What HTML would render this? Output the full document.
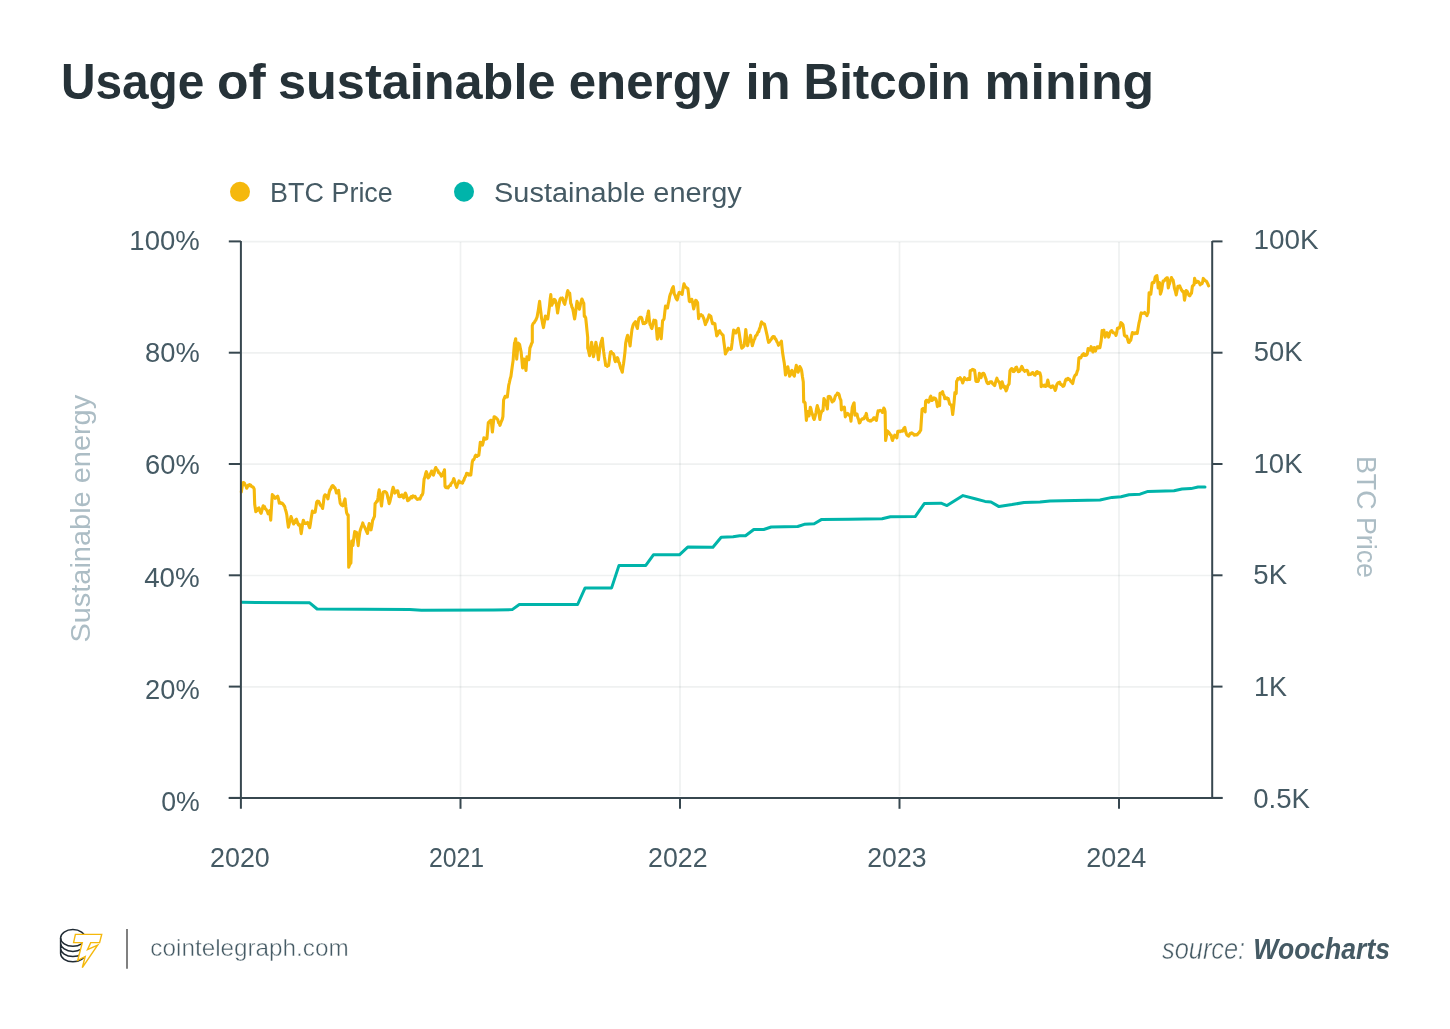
<!DOCTYPE html>
<html><head><meta charset="utf-8"><title>Usage of sustainable energy in Bitcoin mining</title>
<style>
html,body{margin:0;padding:0;background:#fff;}
body{width:1450px;height:1029px;overflow:hidden;}
svg{display:block;}
text{font-family:"Liberation Sans",Arial,sans-serif;}
</style></head><body>
<svg width="1450" height="1029" viewBox="0 0 1450 1029">
<rect width="1450" height="1029" fill="#fff"/>
<g fill="#263238"><text x="60.93" y="99.2" font-size="50" font-weight="700" textLength="143.45" lengthAdjust="spacingAndGlyphs" >Usage</text><text x="216.93" y="99.2" font-size="50" font-weight="700" textLength="48.78" lengthAdjust="spacingAndGlyphs" >of</text><text x="277.98" y="99.2" font-size="50" font-weight="700" textLength="277.55" lengthAdjust="spacingAndGlyphs" >sustainable</text><text x="568.73" y="99.2" font-size="50" font-weight="700" textLength="161.44" lengthAdjust="spacingAndGlyphs" >energy</text><text x="745.45" y="99.2" font-size="50" font-weight="700" textLength="45.24" lengthAdjust="spacingAndGlyphs" >in</text><text x="803.54" y="99.2" font-size="50" font-weight="700" textLength="167.16" lengthAdjust="spacingAndGlyphs" >Bitcoin</text><text x="984.60" y="99.2" font-size="50" font-weight="700" textLength="169.58" lengthAdjust="spacingAndGlyphs" >mining</text></g>
<circle cx="240" cy="191.8" r="10" fill="#f5b80c"/>
<circle cx="464" cy="191.8" r="10" fill="#00b4aa"/>
<g fill="#455a64"><text x="270.11" y="202.4" font-size="27"  textLength="122.72" lengthAdjust="spacingAndGlyphs" >BTC Price</text><text x="494.03" y="202.4" font-size="27"  textLength="247.76" lengthAdjust="spacingAndGlyphs" >Sustainable energy</text></g>
<g stroke="#2a4646" stroke-opacity="0.075" stroke-width="1.7"><line x1="242" y1="241.6" x2="1211.2" y2="241.6"/><line x1="242" y1="352.9" x2="1211.2" y2="352.9"/><line x1="242" y1="464.2" x2="1211.2" y2="464.2"/><line x1="242" y1="575.5" x2="1211.2" y2="575.5"/><line x1="242" y1="686.8000000000001" x2="1211.2" y2="686.8000000000001"/><line x1="460.5" y1="242" x2="460.5" y2="796"/><line x1="680.0" y1="242" x2="680.0" y2="796"/><line x1="899.5" y1="242" x2="899.5" y2="796"/><line x1="1119.0" y1="242" x2="1119.0" y2="796"/></g>
<polyline points="241.8,602.3 309.7,602.8 317.1,609.0 409.8,609.5 421.4,610.2 494.0,610.0 512.2,609.6 519.3,604.5 577.6,604.5 585.1,587.9 611.6,587.9 619.0,565.4 645.8,565.4 653.4,554.8 679.4,554.8 687.7,547.1 712.9,547.2 721.2,537.3 733.1,536.8 739.7,535.8 745.5,535.8 753.8,529.5 763.7,529.5 771.2,527.0 797.7,526.5 804.3,524.3 814.2,523.7 821.7,519.4 849.0,519.2 882.1,518.7 890.4,516.7 915.2,516.6 924.3,503.6 941.0,503.2 947.0,505.6 963.0,495.6 976.0,499.0 985.0,501.4 991.0,502.0 999.0,506.6 1012.0,504.6 1024.0,502.4 1040.0,502.0 1050.0,501.0 1100.0,500.0 1112.0,497.4 1121.0,496.8 1129.0,494.8 1140.0,494.2 1148.0,491.4 1174.0,490.8 1182.0,489.0 1191.0,488.6 1198.0,487.0 1205.0,487.0" fill="none" stroke="#00b4aa" stroke-width="3" stroke-linejoin="round" stroke-linecap="round"/>
<polyline points="241.3,491.9 242.1,487.0 242.9,482.8 243.7,482.5 244.5,483.4 245.2,485.3 246.0,485.8 246.7,488.2 247.5,486.7 248.3,485.0 248.9,485.0 249.5,484.7 250.2,485.8 250.8,485.2 251.4,486.2 252.0,486.6 252.7,486.7 253.5,487.6 254.2,489.2 254.7,504.2 255.8,511.7 256.4,510.8 257.1,510.8 257.7,508.7 258.4,508.2 259.0,507.9 259.7,509.9 260.4,512.3 261.1,513.3 261.8,510.9 262.5,508.1 263.2,505.8 263.9,507.5 264.5,506.6 265.2,508.8 265.9,509.0 266.6,510.2 267.4,511.6 268.1,513.8 268.9,511.5 269.7,510.6 270.7,520.2 271.5,507.1 272.3,494.6 273.0,496.1 273.6,495.9 274.3,497.5 275.0,498.3 275.7,498.0 276.4,497.0 277.0,496.8 277.7,496.2 278.5,498.9 279.3,503.1 280.0,502.3 280.6,502.6 281.3,503.4 282.0,503.1 282.6,503.8 283.3,504.4 284.0,505.7 284.6,506.3 285.3,509.1 286.1,511.7 286.8,514.9 287.6,521.6 288.4,527.2 289.0,524.9 289.7,521.4 290.4,519.3 291.0,516.5 291.7,518.4 292.4,520.9 293.0,522.5 293.7,524.0 294.4,522.4 295.0,522.5 295.7,519.7 296.4,519.2 297.2,521.5 298.0,524.0 298.7,525.0 299.4,524.4 300.1,525.6 301.2,533.6 301.9,529.1 302.6,523.8 303.3,520.2 304.1,522.1 304.9,523.4 305.6,523.6 306.2,523.0 306.9,523.3 307.6,522.4 308.3,523.8 309.0,526.3 309.7,527.7 310.4,523.7 311.0,519.5 311.7,515.2 312.4,511.1 313.1,512.0 313.8,512.5 314.4,511.9 315.1,512.2 315.9,507.4 316.7,502.1 317.4,501.1 318.1,502.1 318.8,501.5 319.4,502.9 320.1,504.7 320.7,505.6 321.3,505.8 322.0,507.1 322.6,508.5 323.4,502.7 324.2,496.2 325.0,494.8 325.8,495.1 326.5,496.3 327.2,497.0 327.9,498.9 328.6,495.2 329.3,492.0 330.0,489.8 330.7,489.2 331.4,487.0 332.0,486.1 332.7,485.5 333.4,486.0 334.1,487.6 334.8,487.6 335.6,489.5 336.4,493.0 337.1,492.0 337.9,491.3 338.6,490.3 339.4,497.4 340.2,503.1 340.9,504.3 341.5,505.1 342.2,504.7 342.9,505.8 343.6,503.3 344.3,500.9 345.0,498.9 345.8,506.5 346.6,512.7 347.4,514.6 348.2,514.9 348.7,567.2 349.4,565.2 350.2,563.8 350.9,563.0 351.7,541.0 352.9,545.6 353.5,540.5 354.1,535.8 354.7,531.6 355.5,531.9 356.4,532.2 357.0,536.8 357.6,540.7 358.2,545.6 359.0,537.7 359.9,531.6 360.6,529.3 361.4,527.0 362.1,525.2 362.8,522.9 363.4,525.1 364.0,526.0 364.6,527.0 365.3,528.6 366.1,530.4 366.8,532.1 367.5,533.4 368.4,527.6 369.2,523.5 369.8,526.4 370.4,528.3 371.0,529.9 371.9,525.6 372.7,520.0 373.3,519.4 373.9,517.5 374.5,516.5 375.1,503.6 375.9,502.7 376.6,501.4 377.4,501.3 378.0,497.7 378.6,492.8 379.2,489.7 380.0,494.4 380.7,500.0 381.5,506.0 382.4,498.4 383.2,492.0 383.9,491.9 384.6,491.6 385.3,491.8 386.0,492.3 386.7,493.1 387.3,495.0 387.9,498.1 388.5,500.1 389.1,503.6 389.9,501.6 390.6,498.4 391.4,495.5 392.2,490.8 393.1,487.3 394.0,489.8 394.9,493.1 395.6,492.3 396.4,491.7 397.1,490.7 397.8,490.8 399.0,496.6 399.7,496.8 400.4,496.6 401.2,495.3 401.9,494.9 402.8,496.3 403.6,497.8 404.5,494.7 405.4,493.1 406.2,494.9 406.9,497.9 407.7,500.7 408.4,499.6 409.1,499.8 409.9,497.9 410.6,497.8 411.2,496.6 411.8,497.9 412.4,496.8 413.0,495.8 413.6,496.1 414.3,496.8 415.1,496.4 415.8,497.9 416.5,498.4 417.2,499.4 417.9,499.3 418.6,499.1 419.3,498.5 420.0,499.0 420.7,497.3 421.4,495.5 422.2,495.1 422.9,493.1 423.5,486.2 424.1,479.2 424.9,477.2 425.6,473.8 426.4,471.6 427.2,474.3 428.1,478.0 428.8,477.2 429.5,476.1 430.2,474.4 430.9,473.0 431.6,471.0 432.5,473.6 433.4,475.1 434.2,473.0 434.9,469.5 435.7,467.5 436.4,468.8 437.1,469.8 437.9,470.6 438.6,472.7 439.3,472.7 440.1,474.1 440.8,474.9 441.5,476.2 442.1,475.3 442.7,474.5 443.3,472.3 443.9,471.9 444.5,469.8 445.0,486.2 445.6,487.4 446.2,487.7 446.8,487.0 447.4,487.1 448.0,487.9 448.8,486.6 449.5,485.8 450.3,485.6 451.0,483.7 451.7,483.0 452.4,482.1 453.1,480.6 453.8,478.6 454.5,480.7 455.2,483.2 456.0,485.7 456.7,487.3 457.5,484.4 458.2,483.3 459.0,480.9 459.7,482.1 460.4,482.3 461.1,482.7 461.8,482.7 462.5,483.2 463.2,481.0 463.9,480.4 464.6,477.9 465.2,477.1 465.9,475.8 466.6,473.3 467.2,473.5 467.8,473.6 468.4,473.8 469.0,475.1 469.6,474.9 470.2,474.2 470.8,475.0 471.6,467.8 472.3,461.9 473.0,459.8 473.8,459.7 474.5,458.0 475.2,456.0 475.8,455.2 476.4,456.4 477.0,456.5 477.6,455.8 478.2,455.1 478.8,455.3 479.6,448.8 480.3,442.2 481.0,442.5 481.8,443.3 482.5,445.1 483.2,442.3 483.9,437.8 484.5,438.2 485.1,438.2 485.7,439.1 486.3,438.3 486.9,438.6 487.6,431.2 488.3,422.5 489.0,422.5 489.8,420.9 490.5,420.4 491.2,420.3 492.4,432.0 493.2,424.0 494.1,416.7 494.7,416.7 495.3,417.7 495.9,417.6 496.5,418.3 497.1,418.9 497.8,419.9 498.6,422.9 499.3,423.5 500.0,425.4 500.7,423.1 501.4,421.2 502.2,419.6 502.9,416.7 503.6,400.0 504.4,398.0 505.1,396.3 505.8,397.3 506.6,396.8 507.3,397.0 508.0,391.3 508.7,385.4 509.4,382.5 510.2,378.7 510.9,376.6 511.6,371.2 512.4,365.4 513.1,360.6 513.8,351.0 514.5,343.1 515.1,341.4 515.7,338.7 516.7,359.1 517.5,350.5 518.2,343.1 518.9,343.8 519.6,344.6 520.4,348.7 521.1,351.9 521.9,360.0 522.6,367.9 523.3,363.2 524.0,359.1 524.7,362.9 525.3,366.7 526.0,370.4 526.9,356.8 527.6,358.3 528.2,358.0 528.9,359.7 529.9,348.0 530.7,346.2 531.5,343.7 532.3,342.2 532.3,325.7 533.0,323.8 533.7,322.8 534.4,322.5 535.0,321.1 535.7,320.3 536.4,318.7 537.1,316.9 537.7,313.5 538.4,309.9 539.0,305.2 539.6,301.4 540.2,307.1 540.9,312.4 541.5,317.9 542.2,321.2 542.8,324.7 543.5,327.6 544.1,323.6 544.8,319.9 545.4,316.0 546.2,316.9 547.0,318.7 547.8,318.9 548.4,314.4 549.0,309.9 549.6,305.1 550.2,299.0 550.8,294.6 551.7,305.3 552.3,303.9 553.0,303.1 553.6,301.5 554.2,299.4 554.8,299.7 555.5,300.7 556.1,302.4 556.9,307.6 557.6,313.0 558.4,307.7 559.2,303.5 560.0,299.4 560.8,298.2 561.6,298.8 562.4,298.0 563.2,300.6 564.0,302.9 564.8,304.3 565.4,301.0 566.0,299.2 566.6,296.4 567.2,292.8 567.8,290.7 568.4,292.2 569.1,293.1 569.7,293.1 570.7,303.3 571.3,304.4 572.0,307.4 572.6,308.2 573.3,311.6 573.9,315.3 574.6,318.9 575.4,313.9 576.2,307.8 577.0,301.4 577.8,303.4 578.6,306.5 579.4,309.2 580.0,306.7 580.6,303.8 581.3,301.0 581.9,299.0 582.5,300.1 583.2,302.3 583.8,303.3 584.3,316.4 585.0,316.3 585.7,317.9 586.4,324.5 587.0,330.7 587.7,337.3 587.7,348.0 588.3,349.7 589.0,352.9 589.6,355.8 590.3,351.5 590.9,346.8 591.6,342.2 592.2,346.3 592.9,352.8 593.5,356.8 594.3,352.5 595.1,347.9 595.9,342.2 596.5,345.9 597.1,350.5 597.8,354.5 598.4,359.7 599.1,354.4 599.8,348.0 600.4,345.2 601.0,342.5 601.7,340.6 602.3,338.3 603.0,345.8 603.7,351.9 604.4,357.0 605.0,360.5 605.7,365.5 606.4,364.9 607.2,366.3 607.9,365.6 608.6,365.5 609.2,361.3 609.9,355.7 610.5,351.9 611.2,351.6 612.0,353.2 612.7,353.3 613.4,353.9 614.1,355.7 614.7,359.8 615.4,361.6 616.1,360.5 616.7,359.5 617.4,357.6 618.0,358.8 618.6,362.1 619.3,362.7 619.9,365.4 620.7,368.3 621.5,369.9 622.3,372.2 622.9,367.4 623.6,363.2 624.2,358.6 625.0,351.6 625.7,343.0 626.3,340.0 627.0,337.2 627.6,335.3 628.2,338.0 628.9,340.1 629.5,342.5 630.1,345.9 630.7,339.8 631.4,334.1 632.0,329.4 633.0,325.5 633.8,323.7 634.6,322.6 635.4,321.6 636.1,323.5 636.7,326.7 637.4,328.5 638.1,323.2 638.8,318.7 639.4,318.4 640.0,317.4 640.6,317.4 641.2,317.3 641.9,318.5 642.5,321.1 643.2,323.6 643.9,322.5 644.7,323.5 645.4,322.9 646.1,322.6 646.9,318.2 647.7,314.8 648.5,311.0 649.2,318.6 650.0,324.6 650.6,325.2 651.3,327.8 651.9,328.5 652.6,325.6 653.2,323.0 653.9,320.2 654.5,321.0 655.2,320.3 655.8,320.7 656.5,329.9 657.3,339.1 657.9,335.9 658.6,332.9 659.2,328.5 659.9,331.6 660.5,335.9 661.2,338.7 661.9,330.1 662.6,320.7 663.4,319.9 664.1,318.7 664.8,312.2 665.5,306.1 666.2,306.5 666.8,306.6 667.5,308.0 668.2,303.9 668.9,301.2 669.6,296.8 670.4,294.0 671.1,292.6 671.8,289.9 672.6,287.9 673.3,286.7 674.3,294.4 675.0,295.0 675.8,297.7 676.5,299.1 677.2,299.8 677.8,297.7 678.5,294.5 679.1,292.5 679.7,292.4 680.3,292.9 680.9,293.6 681.5,293.4 682.1,294.4 682.7,290.7 683.4,286.8 684.0,283.7 684.8,285.8 685.6,287.2 686.4,287.6 687.1,288.2 687.9,288.6 688.6,294.4 689.3,301.2 689.9,301.6 690.5,299.9 691.2,299.5 691.8,299.3 692.4,301.6 693.1,305.6 693.7,309.0 694.4,306.1 695.0,303.2 695.7,300.3 696.3,300.6 697.0,301.9 697.6,302.7 698.6,318.7 699.2,316.5 699.9,315.7 700.5,314.8 701.1,314.6 701.8,315.6 702.4,315.5 703.0,316.8 703.8,318.5 704.6,321.6 705.4,324.6 706.0,322.7 706.7,321.8 707.3,320.2 707.9,318.5 708.5,317.1 709.1,314.9 710.0,315.8 710.8,316.1 711.4,319.0 712.0,321.8 712.6,323.7 713.4,323.5 714.1,323.4 714.9,323.7 715.5,328.6 716.1,331.2 716.7,335.9 717.4,335.0 718.2,333.6 718.9,331.2 719.6,330.7 720.3,332.2 721.0,333.2 721.7,333.7 722.4,334.8 723.1,335.3 723.9,342.1 724.6,347.1 725.4,354.0 726.1,352.6 726.8,351.1 727.6,350.3 728.3,348.2 728.9,348.9 729.5,349.0 730.1,348.7 730.7,349.4 731.3,348.8 732.1,342.9 732.8,336.7 733.6,330.1 734.4,330.6 735.1,331.2 735.9,333.0 736.7,330.8 737.5,329.6 738.3,328.3 739.1,332.8 740.0,338.8 740.9,344.1 741.8,348.2 742.6,347.5 743.3,346.8 744.1,345.8 745.0,337.9 745.8,329.5 746.4,335.3 747.0,340.3 747.6,345.8 748.3,342.3 749.0,341.1 749.8,338.4 750.5,335.3 751.4,340.6 752.3,345.8 753.1,343.0 754.0,340.0 754.8,338.7 755.5,336.1 756.3,335.3 756.9,334.9 757.5,333.1 758.1,331.9 758.7,331.8 759.4,328.9 760.2,327.3 760.9,323.8 761.6,321.9 762.3,322.9 763.0,324.0 763.8,323.7 764.5,324.3 765.4,327.8 766.3,331.8 767.1,335.3 767.8,339.1 768.6,342.3 769.3,341.9 770.0,340.8 770.8,339.9 771.5,338.8 772.3,337.3 773.0,336.6 773.8,336.5 774.4,336.9 775.0,338.7 775.6,338.8 776.2,340.0 777.0,341.9 777.7,342.7 778.5,345.3 779.2,343.5 780.0,342.8 780.7,342.5 781.4,341.2 782.0,347.3 782.6,352.8 783.5,358.4 784.3,363.3 784.9,368.8 785.5,375.0 786.3,372.3 787.0,369.5 787.8,366.8 788.4,369.9 789.0,372.4 789.6,376.2 790.4,374.9 791.1,371.7 791.9,370.3 792.7,373.1 793.5,375.0 794.3,376.2 795.0,371.7 795.6,368.8 796.3,365.2 796.9,368.1 797.5,370.7 798.1,372.2 799.0,369.3 799.8,366.6 800.4,367.5 801.0,368.7 801.6,370.5 802.5,377.0 803.3,381.9 803.7,402.0 804.4,401.9 805.1,402.9 805.8,411.8 806.4,420.4 807.0,415.4 807.7,411.6 808.4,413.8 809.0,416.0 809.6,412.4 810.3,407.2 810.9,408.6 811.5,411.9 812.1,413.4 812.8,415.4 813.5,418.2 814.2,419.5 815.1,416.4 816.0,412.5 816.6,408.5 817.3,405.5 818.0,408.4 818.6,409.9 819.2,414.7 819.9,419.5 820.5,415.1 821.2,412.5 822.1,410.7 823.0,410.7 823.9,398.5 824.8,400.2 825.6,402.0 826.5,405.4 827.4,409.0 828.2,396.7 829.1,396.3 830.0,396.7 830.7,397.8 831.5,400.0 832.2,402.0 832.9,400.8 833.7,400.9 834.4,399.4 835.2,396.3 836.1,395.0 836.8,394.6 837.4,393.2 838.0,394.4 838.6,393.7 839.2,395.0 840.0,398.4 840.9,400.2 841.4,409.9 842.0,408.9 842.7,407.2 843.5,407.9 844.4,407.2 845.3,416.9 846.0,415.4 846.8,414.3 847.5,413.4 848.1,413.6 848.8,415.1 849.5,414.8 850.1,415.1 851.0,421.2 851.6,413.9 852.3,407.2 852.9,405.6 853.5,403.9 854.1,402.9 854.9,415.1 855.6,414.0 856.4,413.8 857.1,414.2 857.8,417.7 858.6,419.7 859.3,423.0 860.0,422.6 860.8,420.2 861.5,419.5 862.1,418.9 862.8,419.1 863.5,418.3 864.1,418.6 864.8,416.6 865.6,416.0 866.3,413.4 867.0,417.1 867.6,419.5 868.2,420.3 868.9,420.2 869.6,420.9 870.2,420.4 870.9,421.0 871.5,420.0 872.2,420.1 872.9,419.5 873.8,417.8 874.6,417.7 875.5,419.5 876.4,420.4 877.2,415.5 878.1,410.7 878.8,411.2 879.4,411.0 880.1,410.3 880.7,410.7 881.6,410.8 882.5,412.5 883.1,411.1 883.8,408.1 884.5,409.2 885.1,411.6 885.6,440.5 886.5,435.6 887.3,430.9 888.0,431.5 888.8,432.3 889.5,433.5 890.4,434.8 891.2,435.2 891.9,438.7 892.5,440.5 893.2,438.3 894.0,437.2 894.7,435.2 895.4,435.7 896.2,437.1 896.9,437.9 897.8,431.3 898.5,431.2 899.3,431.0 900.0,431.7 900.7,431.0 901.5,430.9 902.2,431.3 902.9,431.1 903.5,429.3 904.1,427.9 904.8,427.4 905.5,430.7 906.3,433.5 907.0,435.2 907.9,435.6 908.7,436.1 909.5,434.5 910.2,433.5 911.0,433.1 911.7,432.8 912.4,433.7 913.0,433.6 913.7,434.3 914.4,435.2 915.1,434.6 915.7,434.9 916.4,434.6 917.0,434.9 917.7,434.2 918.4,433.2 919.0,432.9 919.9,431.4 920.7,430.2 921.4,419.7 922.1,409.2 923.0,408.6 923.8,408.4 924.5,409.9 925.1,411.9 925.6,401.4 926.3,400.3 927.0,400.4 927.7,400.5 928.6,402.2 929.3,401.0 930.1,397.5 930.8,396.1 931.5,398.3 932.1,400.5 933.0,399.4 933.9,397.9 934.6,399.1 935.4,398.5 936.1,399.6 936.8,402.7 937.4,406.6 938.1,405.8 938.9,405.8 939.6,405.7 940.0,393.5 940.6,393.0 941.3,393.4 942.0,392.8 942.6,391.7 943.3,394.7 944.1,395.5 944.8,398.7 945.5,397.6 946.3,398.5 947.0,397.9 947.6,399.0 948.3,398.7 949.0,401.3 949.6,404.0 950.5,404.6 951.4,404.9 952.0,408.8 952.7,414.5 953.4,408.6 954.0,403.1 954.9,392.6 955.5,393.8 956.2,393.5 956.6,381.2 957.2,380.5 957.9,378.6 958.6,378.9 959.4,378.9 960.1,377.7 960.8,378.6 961.4,379.6 962.1,381.1 962.7,383.0 963.6,380.4 964.5,377.7 965.4,378.9 966.2,379.5 967.1,379.8 968.0,378.6 968.9,379.4 969.7,379.5 970.2,370.7 970.9,370.5 971.7,370.3 972.4,369.4 973.1,369.6 973.9,370.1 974.6,370.3 975.2,374.9 975.9,381.2 976.5,381.5 977.2,380.3 977.9,381.4 978.5,380.4 979.4,373.4 980.2,375.8 981.1,377.7 982.0,374.2 982.9,373.4 983.7,373.4 984.4,374.5 985.1,376.9 985.8,378.5 986.5,381.2 987.2,383.0 988.1,383.6 989.0,383.4 989.9,381.9 990.7,381.7 991.6,381.8 992.5,383.4 993.2,384.2 994.0,385.0 994.7,385.6 995.4,382.9 996.2,380.2 996.9,378.2 997.5,379.9 998.2,381.2 999.0,381.7 999.9,383.9 1000.8,388.2 1001.5,384.6 1002.1,381.7 1002.8,384.0 1003.4,386.5 1004.0,387.3 1004.7,386.5 1005.4,389.0 1006.1,390.9 1007.0,388.9 1007.8,385.6 1008.5,384.7 1009.1,383.9 1010.0,370.7 1010.9,369.2 1011.7,368.6 1012.4,369.1 1013.2,371.4 1013.9,371.6 1014.5,370.9 1015.2,369.1 1015.9,367.4 1016.5,367.2 1017.4,369.4 1018.3,371.6 1019.1,371.5 1020.0,370.7 1020.9,368.4 1021.8,366.4 1022.5,367.7 1023.3,369.9 1024.0,370.5 1024.8,371.3 1025.5,370.8 1026.2,370.4 1027.0,370.2 1027.7,371.2 1028.6,374.7 1029.2,374.2 1029.9,374.2 1030.5,374.4 1031.2,373.9 1032.1,372.7 1032.9,372.6 1033.6,374.0 1034.4,374.8 1035.1,375.2 1035.8,373.7 1036.4,372.1 1037.1,371.7 1037.8,373.3 1038.5,372.3 1039.2,373.4 1039.9,373.0 1040.8,376.5 1041.2,386.6 1041.9,385.8 1042.6,385.4 1043.2,386.0 1043.9,385.2 1044.6,385.1 1045.2,386.5 1045.8,385.9 1046.5,386.1 1047.2,382.5 1047.8,380.0 1048.4,382.6 1049.1,386.1 1049.8,386.2 1050.4,386.8 1051.0,387.6 1051.7,387.0 1052.4,385.9 1053.1,386.1 1053.8,387.4 1054.5,388.5 1055.2,390.5 1055.9,388.7 1056.6,385.2 1057.2,384.0 1057.8,383.2 1058.4,382.6 1059.0,382.6 1059.6,382.2 1060.2,383.7 1060.8,384.4 1061.4,384.4 1062.1,385.4 1062.9,386.4 1063.6,386.1 1064.2,385.1 1064.9,382.3 1065.5,380.3 1066.2,379.1 1066.8,379.9 1067.4,379.5 1068.0,378.3 1068.6,379.4 1069.2,379.1 1070.1,380.2 1071.0,381.7 1071.8,382.4 1072.7,383.5 1073.4,380.1 1074.1,377.4 1074.8,375.9 1075.5,374.7 1076.2,374.7 1077.1,371.7 1078.0,369.5 1078.9,358.1 1079.6,357.6 1080.2,357.7 1080.8,357.9 1081.5,356.4 1082.2,354.8 1083.0,355.4 1083.7,353.7 1084.3,354.1 1085.0,355.5 1085.7,354.8 1086.5,355.2 1087.2,354.2 1088.1,348.5 1088.8,349.6 1089.5,349.5 1090.2,350.2 1091.1,346.7 1091.7,347.7 1092.3,350.2 1092.9,352.0 1093.6,349.6 1094.2,347.6 1094.8,350.1 1095.5,351.1 1096.3,348.3 1097.2,346.7 1097.9,346.7 1098.6,347.9 1099.2,346.5 1099.9,347.6 1100.6,343.9 1101.2,340.6 1102.1,330.6 1102.9,330.9 1103.8,330.1 1104.4,334.1 1105.1,337.1 1105.7,334.8 1106.3,333.3 1106.9,332.7 1107.8,334.1 1108.6,337.1 1109.2,335.7 1109.9,332.7 1110.8,331.2 1111.7,330.6 1112.4,331.7 1113.2,332.7 1113.9,332.7 1114.6,333.3 1115.3,334.1 1116.0,335.4 1116.7,332.7 1117.4,328.4 1118.1,328.4 1118.8,327.6 1119.5,327.9 1120.2,325.7 1120.9,322.7 1121.6,323.1 1122.3,323.8 1123.0,324.9 1123.7,329.3 1124.4,335.4 1125.2,336.1 1125.9,336.6 1126.7,336.1 1127.6,339.4 1128.5,342.2 1129.2,342.4 1130.0,340.2 1130.7,340.5 1131.6,336.1 1132.4,332.6 1133.1,332.7 1133.8,333.7 1134.5,333.8 1135.1,332.9 1135.8,332.8 1136.5,333.2 1137.2,333.5 1138.1,328.2 1139.0,323.0 1139.7,320.4 1140.5,315.7 1141.2,312.9 1141.9,313.4 1142.6,313.2 1143.3,313.2 1144.0,313.1 1144.7,312.5 1145.4,313.7 1146.2,314.3 1146.9,315.6 1147.6,313.7 1148.2,312.5 1149.1,292.8 1149.9,293.2 1150.8,294.1 1151.4,289.2 1152.1,283.2 1152.7,282.3 1153.3,282.3 1153.9,282.7 1154.6,280.4 1155.2,277.1 1156.1,275.9 1156.9,275.7 1157.6,281.1 1158.2,288.0 1158.9,284.5 1159.6,282.7 1160.4,294.1 1161.1,292.0 1161.7,289.7 1162.4,285.0 1163.1,281.0 1163.8,281.3 1164.5,280.5 1165.2,279.2 1165.9,279.6 1166.7,277.9 1167.4,277.9 1168.3,288.0 1168.9,285.1 1169.6,283.6 1170.2,280.8 1170.8,279.5 1171.4,277.5 1172.2,279.2 1173.1,280.1 1173.8,284.0 1174.4,288.0 1175.3,291.0 1176.2,295.0 1177.1,290.5 1177.9,286.2 1178.8,286.2 1179.7,285.8 1180.4,287.7 1181.2,289.4 1181.9,290.6 1182.8,291.7 1183.6,291.5 1184.5,300.2 1185.3,295.7 1186.2,290.6 1187.1,291.2 1188.0,293.2 1188.8,295.2 1189.7,295.9 1190.6,294.2 1191.5,293.2 1192.4,286.2 1193.2,285.5 1194.1,284.5 1194.6,278.4 1195.2,280.1 1195.9,282.3 1196.6,282.4 1197.4,281.2 1198.1,281.4 1198.8,282.1 1199.5,283.3 1200.2,284.9 1201.1,283.6 1202.0,283.6 1202.7,281.7 1203.3,278.4 1204.2,279.6 1205.1,280.6 1205.9,280.9 1206.8,281.9 1207.7,283.7 1208.6,285.8" fill="none" stroke="#f5b80c" stroke-width="3.1" stroke-linejoin="round" stroke-linecap="round"/>
<g stroke="#37474f" stroke-width="2" stroke-linecap="butt"><line x1="240.9" y1="240.9" x2="240.9" y2="808.8"/><line x1="1212.2" y1="240.9" x2="1212.2" y2="798.9"/><line x1="228.8" y1="797.9" x2="1222.5" y2="797.9"/><line x1="228.8" y1="241.4" x2="240.9" y2="241.4"/><line x1="1212.2" y1="241.4" x2="1222.5" y2="241.4"/><line x1="228.8" y1="352.7" x2="240.9" y2="352.7"/><line x1="1212.2" y1="352.7" x2="1222.5" y2="352.7"/><line x1="228.8" y1="464.0" x2="240.9" y2="464.0"/><line x1="1212.2" y1="464.0" x2="1222.5" y2="464.0"/><line x1="228.8" y1="575.3" x2="240.9" y2="575.3"/><line x1="1212.2" y1="575.3" x2="1222.5" y2="575.3"/><line x1="228.8" y1="686.6" x2="240.9" y2="686.6"/><line x1="1212.2" y1="686.6" x2="1222.5" y2="686.6"/><line x1="228.8" y1="797.9" x2="240.9" y2="797.9"/><line x1="1212.2" y1="797.9" x2="1222.5" y2="797.9"/><line x1="460.5" y1="797.9" x2="460.5" y2="808.8"/><line x1="680.0" y1="797.9" x2="680.0" y2="808.8"/><line x1="899.5" y1="797.9" x2="899.5" y2="808.8"/><line x1="1119.0" y1="797.9" x2="1119.0" y2="808.8"/></g>
<g fill="#455a64"><text x="129.37" y="249.9" font-size="28.5"  textLength="70.41" lengthAdjust="spacingAndGlyphs" >100%</text><text x="145.04" y="362.1" font-size="28.5"  textLength="54.66" lengthAdjust="spacingAndGlyphs" >80%</text><text x="145.04" y="474.3" font-size="28.5"  textLength="54.66" lengthAdjust="spacingAndGlyphs" >60%</text><text x="144.13" y="586.5" font-size="28.5"  textLength="55.59" lengthAdjust="spacingAndGlyphs" >40%</text><text x="145.04" y="698.7" font-size="28.5"  textLength="54.66" lengthAdjust="spacingAndGlyphs" >20%</text><text x="161.26" y="810.9" font-size="28.5"  textLength="38.56" lengthAdjust="spacingAndGlyphs" >0%</text><text x="1253.54" y="249.0" font-size="28.5"  textLength="65.11" lengthAdjust="spacingAndGlyphs" >100K</text><text x="1253.74" y="360.8" font-size="28.5"  textLength="48.75" lengthAdjust="spacingAndGlyphs" >50K</text><text x="1253.57" y="472.6" font-size="28.5"  textLength="48.92" lengthAdjust="spacingAndGlyphs" >10K</text><text x="1253.33" y="584.4" font-size="28.5"  textLength="33.71" lengthAdjust="spacingAndGlyphs" >5K</text><text x="1253.91" y="696.2" font-size="28.5"  textLength="33.02" lengthAdjust="spacingAndGlyphs" >1K</text><text x="1253.13" y="808.0" font-size="28.5"  textLength="56.79" lengthAdjust="spacingAndGlyphs" >0.5K</text><text x="210.01" y="867.0" font-size="27"  textLength="59.77" lengthAdjust="spacingAndGlyphs" >2020</text><text x="428.98" y="867.0" font-size="27"  textLength="55.21" lengthAdjust="spacingAndGlyphs" >2021</text><text x="648.11" y="867.0" font-size="27"  textLength="59.46" lengthAdjust="spacingAndGlyphs" >2022</text><text x="867.32" y="867.0" font-size="27"  textLength="59.15" lengthAdjust="spacingAndGlyphs" >2023</text><text x="1086.20" y="867.0" font-size="27"  textLength="59.97" lengthAdjust="spacingAndGlyphs" >2024</text></g>
<g fill="#acbdc5"><g transform="translate(90.2,641.5) rotate(-90)"><text x="-1.07" y="0" font-size="27"  textLength="247.76" lengthAdjust="spacingAndGlyphs" >Sustainable energy</text></g><g transform="translate(1357.2,457.9) rotate(90)"><text x="-1.98" y="0" font-size="27"  textLength="122.01" lengthAdjust="spacingAndGlyphs" >BTC Price</text></g></g>
<g fill="none" stroke="#1f2a33" stroke-width="1.5">
<ellipse cx="72.9" cy="937.9" rx="12.3" ry="8.3"/>
<path d="M60.6,937.9 V953.5 M60.6,943.1 A12.3,8.3 0 0 0 85.2,943.1 M60.6,948.3 A12.3,8.3 0 0 0 85.2,948.3 M60.6,953.5 A12.3,8.3 0 0 0 85.2,953.5"/>
</g>
<path d="M75.4,934.4 L101.7,934.4 L99.6,942.6 L90.7,942.6 L87.5,949.7 L97.6,945.1 L82.3,967.7 L85.2,956.5 L77.7,960.4 L82.3,942.6 L73.6,942.6 Z" fill="#fff" stroke="#f5b80c" stroke-width="1.4" stroke-linejoin="miter"/>
<line x1="127" y1="929.1" x2="127" y2="968.8" stroke="#808080" stroke-width="2"/>
<g fill="#455a64" stroke="#fff" stroke-width="0.45"><text x="150.39" y="955.6" font-size="24"  textLength="198.35" lengthAdjust="spacingAndGlyphs" >cointelegraph.com</text></g>
<g fill="#455a64" stroke="#fff" stroke-width="0.55"><text x="1162.00" y="958.9" font-size="30" font-style="italic" textLength="83.18" lengthAdjust="spacingAndGlyphs" >source:</text></g>
<g fill="#455a64"><text x="1253.37" y="958.9" font-size="29" font-style="italic" font-weight="700" textLength="136.65" lengthAdjust="spacingAndGlyphs" >Woocharts</text></g>
</svg>
</body></html>
